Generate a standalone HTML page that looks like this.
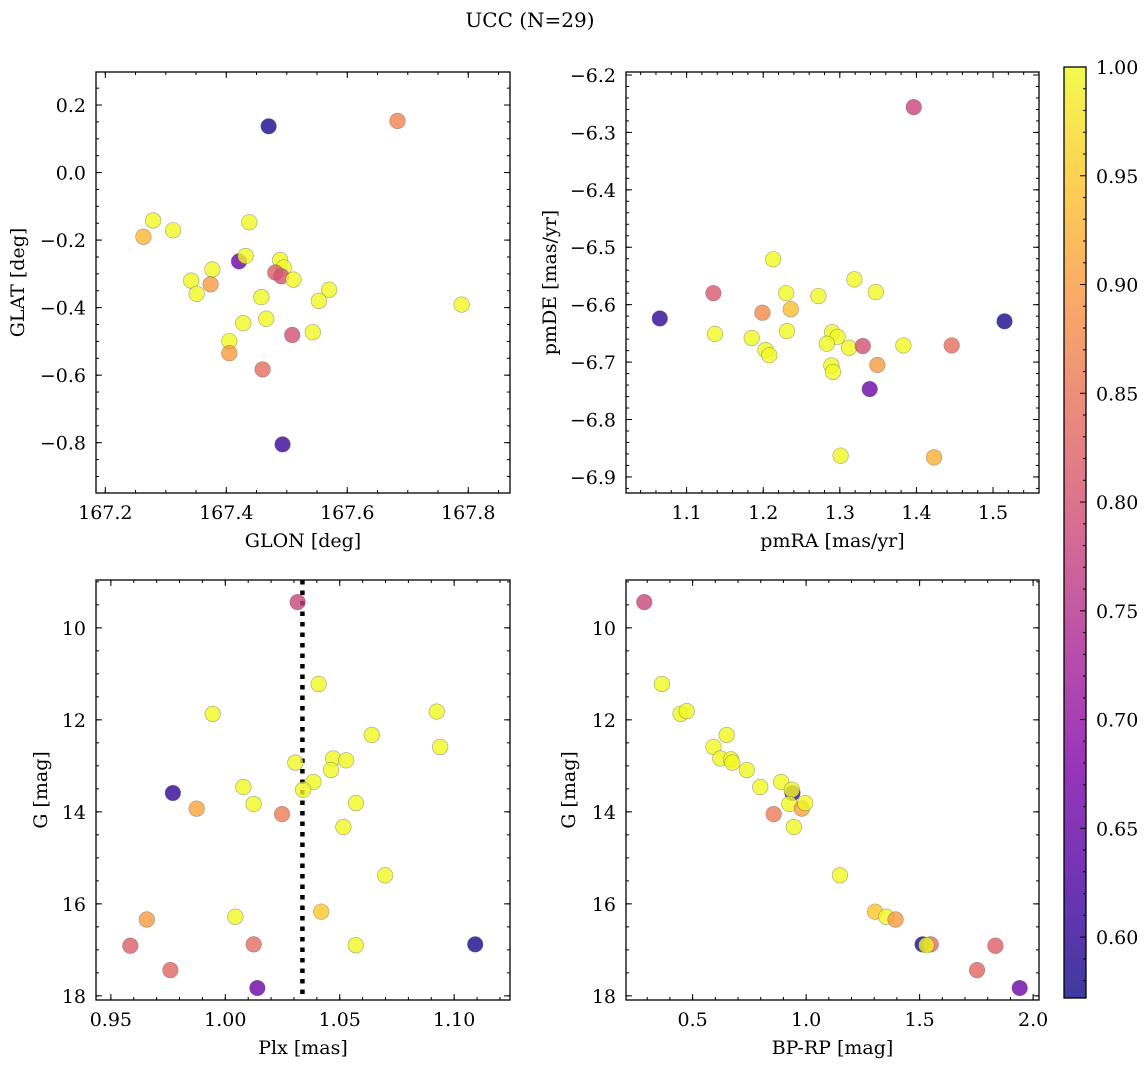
<!DOCTYPE html>
<html><head><meta charset="utf-8">
<style>
html,body{margin:0;padding:0;background:#fff;}
svg{display:block;font-family:"DejaVu Serif","Liberation Serif",serif;}
</style></head>
<body>
<svg id="fig" width="1148" height="1067" viewBox="0 0 1148 1067" xmlns="http://www.w3.org/2000/svg">
<text x="530" y="27" font-size="20" text-anchor="middle">UCC (N=29)</text>
</svg>
<script>
// ---- data ----
const glon=[167.470,167.683,167.279,167.263,167.312,167.438,167.421,167.432,167.489,167.495,167.481,167.491,167.511,167.377,167.342,167.374,167.351,167.570,167.553,167.458,167.789,167.466,167.428,167.543,167.509,167.405,167.405,167.460,167.493];
const glat=[0.137,0.153,-0.142,-0.190,-0.171,-0.147,-0.263,-0.247,-0.259,-0.281,-0.296,-0.307,-0.317,-0.287,-0.320,-0.331,-0.359,-0.347,-0.380,-0.369,-0.391,-0.433,-0.446,-0.473,-0.481,-0.499,-0.535,-0.583,-0.805];
const probTL=[0.58,0.87,1,0.93,1,1,0.66,1,1,1,0.82,0.80,1,1,1,0.90,1,1,1,1,1,1,1,1,0.80,1,0.90,0.84,0.61];

const pmra=[1.3965,1.065,1.135,1.137,1.199,1.185,1.213,1.230,1.236,1.231,1.203,1.208,1.272,1.319,1.347,1.290,1.297,1.283,1.312,1.330,1.383,1.446,1.515,1.289,1.291,1.349,1.339,1.301,1.423];
const pmde=[-6.256,-6.624,-6.580,-6.651,-6.614,-6.658,-6.521,-6.580,-6.608,-6.646,-6.679,-6.688,-6.585,-6.556,-6.578,-6.648,-6.656,-6.668,-6.675,-6.672,-6.671,-6.671,-6.629,-6.706,-6.717,-6.705,-6.747,-6.863,-6.866];
const probTR=[0.78,0.60,0.81,1,0.88,1,1,1,0.94,1,1,1,1,1,1,1,1,1,1,0.80,1,0.84,0.58,1,1,0.90,0.66,1,0.92];

const plx=[1.0316,1.0408,0.9945,1.0924,1.064,1.0939,1.0306,1.0471,1.0528,1.0462,1.0385,1.034,1.0079,0.9771,0.9875,1.0124,1.0248,1.0571,1.0516,1.0698,1.0044,1.0419,0.9657,0.9585,1.0124,1.057,1.1092,0.976,1.014];
const gmagBL=[9.44,11.22,11.87,11.82,12.33,12.59,12.93,12.84,12.88,13.09,13.35,13.52,13.46,13.59,13.93,13.83,14.05,13.81,14.33,15.38,16.28,16.17,16.34,16.91,16.88,16.90,16.88,17.44,17.83];
const probBL=[0.78,1,1,1,1,1,1,1,1,1,1,1,1,0.60,0.91,1,0.86,1,1,1,1,0.95,0.90,0.82,0.84,1,0.58,0.83,0.66];
const plxMedian=[1.0337];

const bprp=[0.287,0.365,0.447,0.474,0.650,0.592,0.622,0.669,0.675,0.739,0.798,0.890,0.940,0.937,0.926,0.981,0.996,0.857,0.946,1.149,1.304,1.353,1.394,1.513,1.549,1.530,1.834,1.753,1.941];
const gmagBR=[9.44,11.22,11.87,11.81,12.33,12.59,12.84,12.86,12.93,13.09,13.46,13.35,13.59,13.52,13.83,13.93,13.81,14.05,14.33,15.38,16.17,16.28,16.34,16.88,16.88,16.90,16.91,17.44,17.83];
const probBR=[0.78,1,1,1,1,1,1,1,1,1,1,1,0.60,1,1,0.91,1,0.86,1,1,0.95,1,0.90,0.58,0.84,1,0.82,0.83,0.66];

const cbTicks=[0.60,0.65,0.70,0.75,0.80,0.85,0.90,0.95,1.00];
const CMIN=0.572, CMAX=1.0;

// ---- helpers ----
const NS="http://www.w3.org/2000/svg";
const svg=document.getElementById('fig');
const FS=19;
function mk(tag,attrs,parent){const e=document.createElementNS(NS,tag);for(const k in attrs)e.setAttribute(k,attrs[k]);(parent||svg).appendChild(e);return e;}
const stops=[[0,[13,8,135]],[0.125,[76,2,161]],[0.25,[126,3,168]],[0.375,[169,35,149]],[0.5,[204,71,120]],[0.625,[229,107,93]],[0.75,[248,148,65]],[0.875,[253,195,40]],[1,[240,249,33]]];
function plasma(t){t=Math.max(0,Math.min(1,t));for(let i=1;i<stops.length;i++){if(t<=stops[i][0]){const a=stops[i-1],b=stops[i];const f=(t-a[0])/(b[0]-a[0]);const c=a[1].map((v,j)=>Math.round(v+(b[1][j]-v)*f));return `rgb(${c[0]},${c[1]},${c[2]})`;}}return 'rgb(240,249,33)';}
function fmt(v,d){let s=v.toFixed(d);if(v<-1e-9)s='\u2212'+s.slice(1);return s;}

function panel(o){
  const g=mk('g',{});
  
  
  const X=v=>o.x0+(v-o.xmin)/(o.xmax-o.xmin)*(o.x1-o.x0);
  const Y=o.invert? v=>o.y0+(v-o.ymin)/(o.ymax-o.ymin)*(o.y1-o.y0) : v=>o.y1-(v-o.ymin)/(o.ymax-o.ymin)*(o.y1-o.y0);
  const tg=mk('g',{stroke:'#000','stroke-width':1},g);
  function ticksX(step,len){const s=Math.ceil(o.xmin/step-1e-6);for(let k=s;k*step<=o.xmax+1e-9;k++){const px=X(k*step);mk('line',{x1:px,x2:px,y1:o.y1,y2:o.y1-len},tg);mk('line',{x1:px,x2:px,y1:o.y0,y2:o.y0+len},tg);}}
  function ticksY(step,len){const lo=Math.min(o.ymin,o.ymax),hi=Math.max(o.ymin,o.ymax);const s=Math.ceil(lo/step-1e-6);for(let k=s;k*step<=hi+1e-9;k++){const py=Y(k*step);mk('line',{x1:o.x0,x2:o.x0+len,y1:py,y2:py},tg);mk('line',{x1:o.x1,x2:o.x1-len,y1:py,y2:py},tg);}}
  ticksX(o.xminor,3);ticksX(o.xmajor,6);ticksY(o.yminor,3);ticksY(o.ymajor,6);
  o.xticks.forEach(v=>{const t=mk('text',{x:X(v),y:o.y1+26,'font-size':FS,'text-anchor':'middle'},g);t.textContent=fmt(v,o.xdec);});
  o.yticks.forEach(v=>{const t=mk('text',{x:o.x0-10,y:Y(v)+7,'font-size':FS,'text-anchor':'end'},g);t.textContent=fmt(v,o.ydec);});
  const xl=mk('text',{x:(o.x0+o.x1)/2,y:o.y1+54,'font-size':FS,'text-anchor':'middle'},g);xl.textContent=o.xlabel;
  
  const yl=mk('text',{x:0,y:0,'font-size':FS,'text-anchor':'middle',transform:`translate(${o.ylx},${(o.y0+o.y1)/2}) rotate(-90)`},g);yl.textContent=o.ylabel;
  
  const cid='c'+o.name;const cp=mk('clipPath',{id:cid},g);mk('rect',{x:o.x0,y:o.y0,width:o.x1-o.x0,height:o.y1-o.y0},cp);
  const pg=mk('g',{'clip-path':`url(#${cid})`},g);
  if(o.vline){o.vline.forEach(v=>{const l=mk('line',{x1:X(v),x2:X(v),y1:o.y0,y2:o.y1,stroke:'#000','stroke-width':4.5,'stroke-dasharray':'4.5 6'},pg);});}
  for(let i=0;i<o.xs.length;i++){
    const c=mk('circle',{cx:X(o.xs[i]),cy:Y(o.ys[i]),r:7.8,fill:plasma((o.cs[i]-CMIN)/(CMAX-CMIN)),'fill-opacity':0.8,stroke:'#666','stroke-opacity':0.6,'stroke-width':0.6},pg);
    
    
  }
  const fr=mk('rect',{x:o.x0,y:o.y0,width:o.x1-o.x0,height:o.y1-o.y0,fill:'none',stroke:'#000','stroke-width':1.3},g);
  
}

panel({name:'glon-glat-panel',x0:96,x1:510,y0:72,y1:493,xmin:167.1846,xmax:167.869,ymin:-0.949,ymax:0.2978,
  xmajor:0.2,xminor:0.05,ymajor:0.2,yminor:0.05,xticks:[167.2,167.4,167.6,167.8],yticks:[0.2,0.0,-0.2,-0.4,-0.6,-0.8],xdec:1,ydec:1,
  xlabel:'GLON [deg]',ylabel:'GLAT [deg]',ylx:24,xs:glon,ys:glat,cs:probTL});
panel({name:'pm-panel',x0:626,x1:1039,y0:72,y1:493,xmin:1.0209,xmax:1.56,ymin:-6.928,ymax:-6.1948,
  xmajor:0.1,xminor:0.02,ymajor:0.1,yminor:0.02,xticks:[1.1,1.2,1.3,1.4,1.5],yticks:[-6.2,-6.3,-6.4,-6.5,-6.6,-6.7,-6.8,-6.9],xdec:1,ydec:1,
  xlabel:'pmRA [mas/yr]',ylabel:'pmDE [mas/yr]',ylx:556,xs:pmra,ys:pmde,cs:probTR});
panel({name:'plx-g-panel',x0:96,x1:510,y0:580,y1:1000,xmin:0.9435,xmax:1.1244,ymin:8.96,ymax:18.09,invert:true,
  xmajor:0.05,xminor:0.01,ymajor:2,yminor:0.5,xticks:[0.95,1.00,1.05,1.10],yticks:[10,12,14,16,18],xdec:2,ydec:0,
  xlabel:'Plx [mas]',ylabel:'G [mag]',ylx:47,xs:plx,ys:gmagBL,cs:probBL,vline:plxMedian});
panel({name:'cmd-panel',x0:626,x1:1039,y0:580,y1:1000,xmin:0.2065,xmax:2.026,ymin:8.96,ymax:18.09,invert:true,
  xmajor:0.5,xminor:0.1,ymajor:2,yminor:0.5,xticks:[0.5,1.0,1.5,2.0],yticks:[10,12,14,16,18],xdec:1,ydec:0,
  xlabel:'BP-RP [mag]',ylabel:'G [mag]',ylx:575,xs:bprp,ys:gmagBR,cs:probBR});

// colorbar
(function(){
  const cb=mk('g',{});
  
  
  const x0=1064,x1=1086,y0=67,y1=998;
  const CY=v=>y1-(v-CMIN)/(CMAX-CMIN)*(y1-y0);
  const lg=mk('linearGradient',{id:'cbg',x1:0,y1:1,x2:0,y2:0},cb);
  for(let i=0;i<=20;i++){mk('stop',{offset:i/20,'stop-color':plasma(i/20),'stop-opacity':0.8},lg);}
  mk('rect',{x:x0,y:y0,width:x1-x0,height:y1-y0,fill:'url(#cbg)'},cb);
  for(let k=58;k<=100;k++){const v=k/100;const py=CY(v);const len=(k%5===0)?6:3;mk('line',{x1:x1,x2:x1-len,y1:py,y2:py,stroke:'#000','stroke-width':1},cb);}
  cbTicks.forEach(v=>{const t=mk('text',{x:x1+10,y:CY(v)+7,'font-size':FS},cb);t.textContent=v.toFixed(2);});
  mk('rect',{x:x0,y:y0,width:x1-x0,height:y1-y0,fill:'none',stroke:'#000','stroke-width':1.3},cb);
})();
</script>
</body></html>
